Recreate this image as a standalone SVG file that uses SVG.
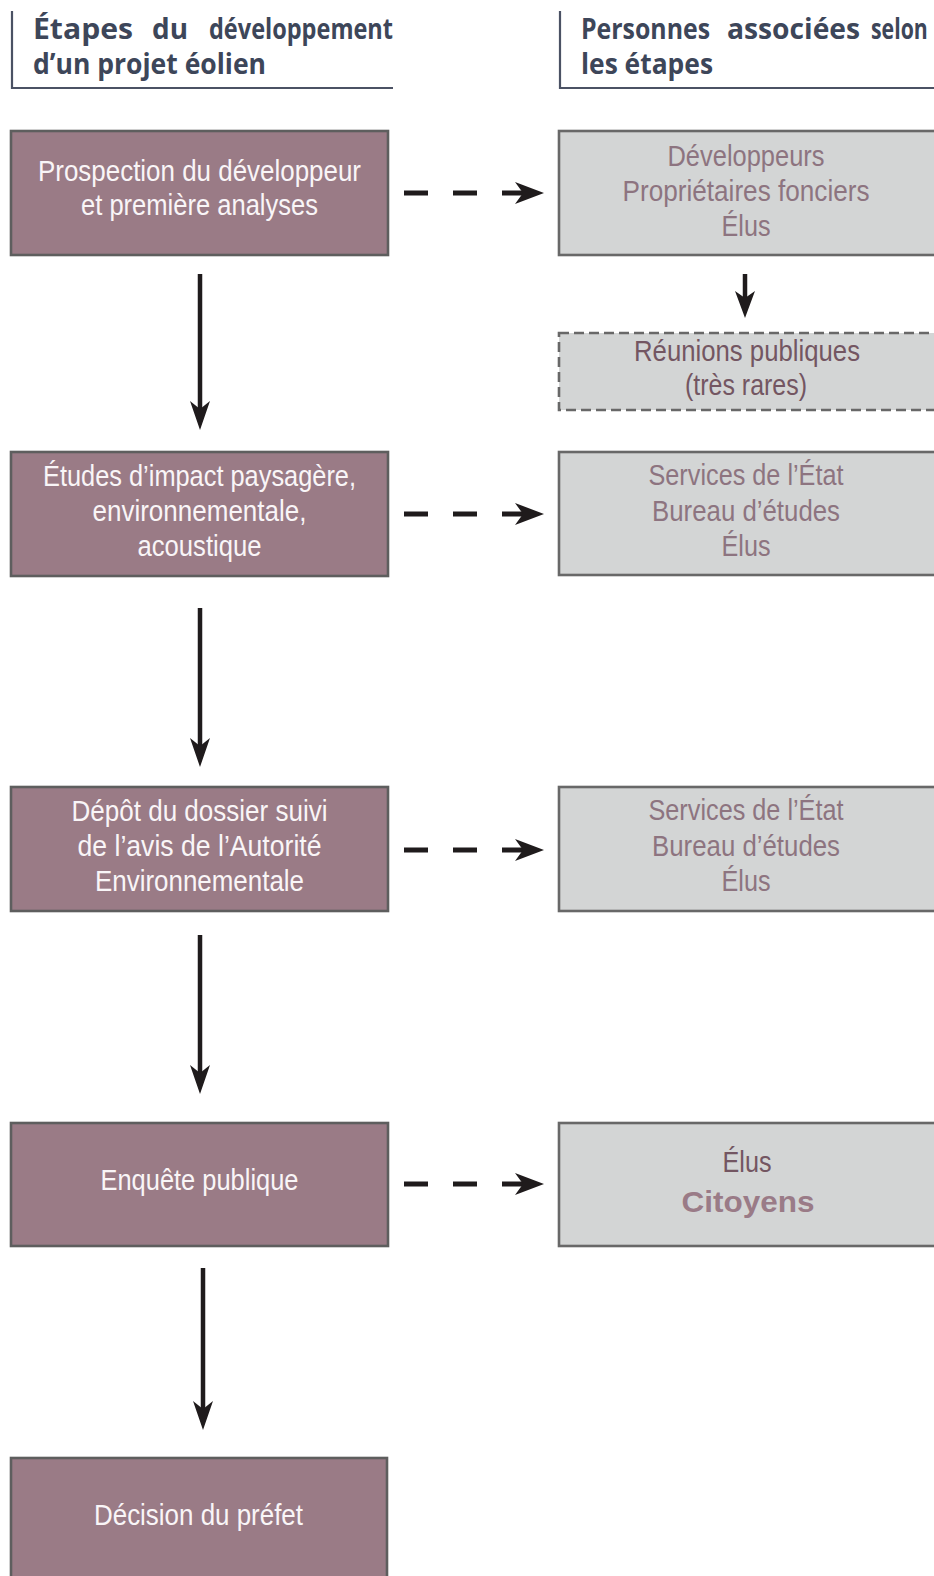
<svg xmlns="http://www.w3.org/2000/svg" width="934" height="1576" viewBox="0 0 934 1576">
<style>
.hd{font-family:"Open Sans","DejaVu Sans",sans-serif;font-weight:bold;font-size:28px;fill:#3d4659}
.hl{stroke:#4b5264;stroke-width:2.2;fill:none}
.step{fill:#9a7b86;stroke:#5e5e5e;stroke-width:2.6}
.who{fill:#d3d5d5;stroke:#686868;stroke-width:2.6}
.whod{fill:#d3d5d5;stroke:#686868;stroke-width:2.6;stroke-dasharray:10,5}
.st{font-family:"Liberation Sans",Arial,sans-serif;font-size:29px;fill:#f9f5f7;text-anchor:middle}
.wt{font-family:"Liberation Sans",Arial,sans-serif;font-size:29px;fill:#8d7480;text-anchor:middle}
.wd{fill:#735662}
.wb{font-weight:bold;font-size:30px;fill:#9a7b87}
.ln{stroke:#1f1b1c;stroke-width:4.5;fill:none}
.dash{stroke:#1f1b1c;stroke-width:5;fill:none;stroke-dasharray:24,25}
.ah{fill:#1f1b1c}
</style>
<g id="headers">
<path class="hl" d="M12,11 V88 H393"/>
<text class="hd" x="33" y="39" textLength="100" lengthAdjust="spacingAndGlyphs">Étapes</text>
<text class="hd" x="152" y="39" textLength="36" lengthAdjust="spacingAndGlyphs">du</text>
<text class="hd" x="209" y="39" textLength="184" lengthAdjust="spacingAndGlyphs">développement</text>
<text class="hd" x="33" y="74" textLength="233" lengthAdjust="spacingAndGlyphs">d’un projet éolien</text>
<path class="hl" d="M560,11 V88 H934"/>
<text class="hd" x="581" y="39" textLength="129" lengthAdjust="spacingAndGlyphs">Personnes</text>
<text class="hd" x="727" y="39" textLength="133" lengthAdjust="spacingAndGlyphs">associées</text>
<text class="hd" transform="translate(871 39) scale(0.76 1)">selon</text>
<text class="hd" x="581" y="74" textLength="132" lengthAdjust="spacingAndGlyphs">les étapes</text>
</g>
<g id="step1">
<rect class="step" x="11" y="131" width="377" height="124"/>
<text class="st" x="199.5" y="181" textLength="323" lengthAdjust="spacingAndGlyphs">Prospection du développeur</text>
<text class="st" x="199.5" y="215" textLength="237" lengthAdjust="spacingAndGlyphs">et première analyses</text>
</g>
<g id="step2">
<rect class="step" x="11" y="452" width="377" height="124"/>
<text class="st" x="199.5" y="486" textLength="313" lengthAdjust="spacingAndGlyphs">Études d’impact paysagère,</text>
<text class="st" x="199.5" y="521" textLength="214" lengthAdjust="spacingAndGlyphs">environnementale,</text>
<text class="st" x="199.5" y="556" textLength="124" lengthAdjust="spacingAndGlyphs">acoustique</text>
</g>
<g id="step3">
<rect class="step" x="11" y="787" width="377" height="124"/>
<text class="st" x="199.5" y="821" textLength="256" lengthAdjust="spacingAndGlyphs">Dépôt du dossier suivi</text>
<text class="st" x="199.5" y="856" textLength="244" lengthAdjust="spacingAndGlyphs">de l’avis de l’Autorité</text>
<text class="st" x="199.5" y="891" textLength="209" lengthAdjust="spacingAndGlyphs">Environnementale</text>
</g>
<g id="step4">
<rect class="step" x="11" y="1123" width="377" height="123"/>
<text class="st" x="199.5" y="1190" textLength="198" lengthAdjust="spacingAndGlyphs">Enquête publique</text>
</g>
<g id="step5">
<rect class="step" x="11" y="1458" width="376" height="130"/>
<text class="st" x="198.5" y="1525" textLength="209" lengthAdjust="spacingAndGlyphs">Décision du préfet</text>
</g>
<g id="who1">
<rect class="who" x="559" y="131" width="390" height="124"/>
<text class="wt" x="746" y="166" textLength="157" lengthAdjust="spacingAndGlyphs">Développeurs</text>
<text class="wt" x="746" y="201" textLength="247" lengthAdjust="spacingAndGlyphs">Propriétaires fonciers</text>
<text class="wt" x="746" y="236" textLength="49" lengthAdjust="spacingAndGlyphs">Élus</text>
</g>
<g id="reunions">
<rect class="whod" x="559" y="333" width="390" height="77"/>
<text class="wt wd" x="747" y="361" textLength="226" lengthAdjust="spacingAndGlyphs">Réunions publiques</text>
<text class="wt wd" x="746" y="395" textLength="122" lengthAdjust="spacingAndGlyphs">(très rares)</text>
</g>
<g id="who2">
<rect class="who" x="559" y="452" width="390" height="123"/>
<text class="wt" x="746" y="485" textLength="195" lengthAdjust="spacingAndGlyphs">Services de l’État</text>
<text class="wt" x="746" y="521" textLength="188" lengthAdjust="spacingAndGlyphs">Bureau d’études</text>
<text class="wt" x="746" y="556" textLength="49" lengthAdjust="spacingAndGlyphs">Élus</text>
</g>
<g id="who3">
<rect class="who" x="559" y="787" width="390" height="124"/>
<text class="wt" x="746" y="820" textLength="195" lengthAdjust="spacingAndGlyphs">Services de l’État</text>
<text class="wt" x="746" y="856" textLength="188" lengthAdjust="spacingAndGlyphs">Bureau d’études</text>
<text class="wt" x="746" y="891" textLength="49" lengthAdjust="spacingAndGlyphs">Élus</text>
</g>
<g id="who4">
<rect class="who" x="559" y="1123" width="390" height="123"/>
<text class="wt wd" x="747" y="1172" textLength="49" lengthAdjust="spacingAndGlyphs">Élus</text>
<text class="wt wb" x="748" y="1212" textLength="133" lengthAdjust="spacingAndGlyphs">Citoyens</text>
</g>
<g id="connectors">
<path class="dash" d="M404,193 H528"/>
<path class="ah" d="M544,193 L515,182 L523,193 L515,204 Z"/>
<path class="dash" d="M404,514 H528"/>
<path class="ah" d="M544,514 L515,503 L523,514 L515,525 Z"/>
<path class="dash" d="M404,850 H528"/>
<path class="ah" d="M544,850 L515,839 L523,850 L515,861 Z"/>
<path class="dash" d="M404,1184 H528"/>
<path class="ah" d="M544,1184 L515,1173 L523,1184 L515,1195 Z"/>
<path class="ln" d="M200,274 V412"/>
<path class="ah" d="M200,430 L190,401 L200,409 L210,401 Z"/>
<path class="ln" d="M200,608 V748"/>
<path class="ah" d="M200,767 L190,738 L200,746 L210,738 Z"/>
<path class="ln" d="M200,935 V1076"/>
<path class="ah" d="M200,1094 L190,1065 L200,1073 L210,1065 Z"/>
<path class="ln" d="M203,1268 V1412"/>
<path class="ah" d="M203,1430 L193,1401 L203,1409 L213,1401 Z"/>
<path class="ln" d="M745,274 V300"/>
<path class="ah" d="M745,318 L735,291 L745,298 L755,291 Z"/>
</g>
</svg>
